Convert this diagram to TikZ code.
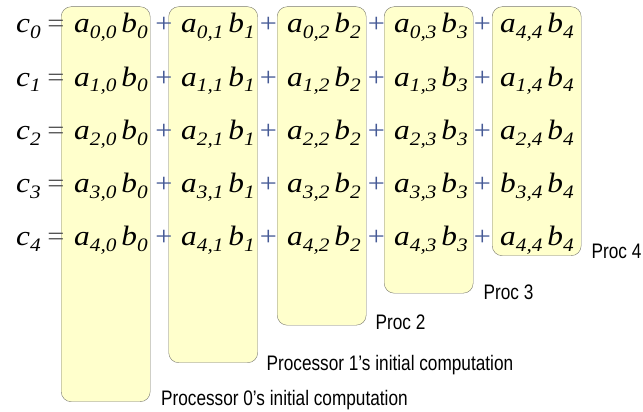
\documentclass[tikz,border=0pt]{standalone}
\usepackage{fontspec}
\setmainfont[FakeStretch=1.12]{Liberation Serif}
\newfontfamily\labelfont[FakeStretch=0.82]{Liberation Sans}
\usetikzlibrary{positioning}
\definecolor{boxfill}{RGB}{255,255,204}
\definecolor{boxline}{RGB}{120,120,110}
\definecolor{eqgray}{RGB}{85,85,85}
\definecolor{plusblue}{RGB}{70,90,150}
\newcommand\sbs[1]{\raisebox{-0.2em}{\fontsize{19}{19}\selectfont #1}}
\tikzset{
  procbox/.style={draw=boxline, fill=boxfill, rounded corners=10pt, anchor=north west,
    minimum width=89pt, inner sep=0pt},
  term/.style={anchor=base west, inner sep=0pt, font=\fontsize{28}{28}\selectfont\itshape},
  sign/.style={anchor=base, inner sep=0pt, font=\fontsize{27}{27}\selectfont},
  proclabel/.style={anchor=base west, inner sep=0pt, font=\labelfont\fontsize{21}{21}\selectfont}
}
\begin{document}
\begin{tikzpicture}[x=1pt,y=-1pt]
\useasboundingbox (0,0) rectangle (643,412);
\foreach \i/\x/\h in {0/61/395, 1/168.5/356, 2/277/318.5, 3/384/286.5, 4/492/249} {
    \node[procbox, minimum height=\h pt] (p\i) at (\x,6.5) {};
}
\foreach \r in {0,...,4} {
    \pgfmathsetmacro\yb{33+53.2*\r}
    \node[term] (c\r) at (16,\yb) {c\sbs{\r}};
    \node[sign, text=eqgray] (eq\r) at (56,\yb) {=};
    \foreach \col/\tx in {0/74,1/181,2/287,3/394} {
        \node[term] (t\r\col) at (\tx,\yb) {a\sbs{\r,\col}\hspace{5pt}b\sbs{\col}};
    }
    \foreach \col/\px in {1/164,2/268.5,3/376.5,4/482.5} {
        \node[sign, text=plusblue] (pl\r\col) at (\px,\yb) {+};
    }
}
\foreach \r/\lt/\ls in {0/a/{4,4}, 1/a/{1,4}, 2/a/{2,4}, 3/b/{3,4}, 4/a/{4,4}} {
    \pgfmathsetmacro\yb{33+53.2*\r}
    \node[term] (t\r4) at (500,\yb) {\lt\sbs{\ls}\hspace{5pt}b\sbs{4}};
}
\node[proclabel] (l0) at ([shift={(10.5,3.5)}]p0.south east) {Processor 0’s initial computation};
\node[proclabel] (l1) at ([shift={(8.5,7.5)}]p1.south east) {Processor 1’s initial computation};
\node[proclabel] (l2) at ([shift={(9,4)}]p2.south east) {Proc 2};
\node[proclabel] (l3) at ([shift={(10,6)}]p3.south east) {Proc 3};
\node[proclabel] (l4) at ([shift={(10,2.5)}]p4.south east) {Proc 4};
\end{tikzpicture}
\end{document}
